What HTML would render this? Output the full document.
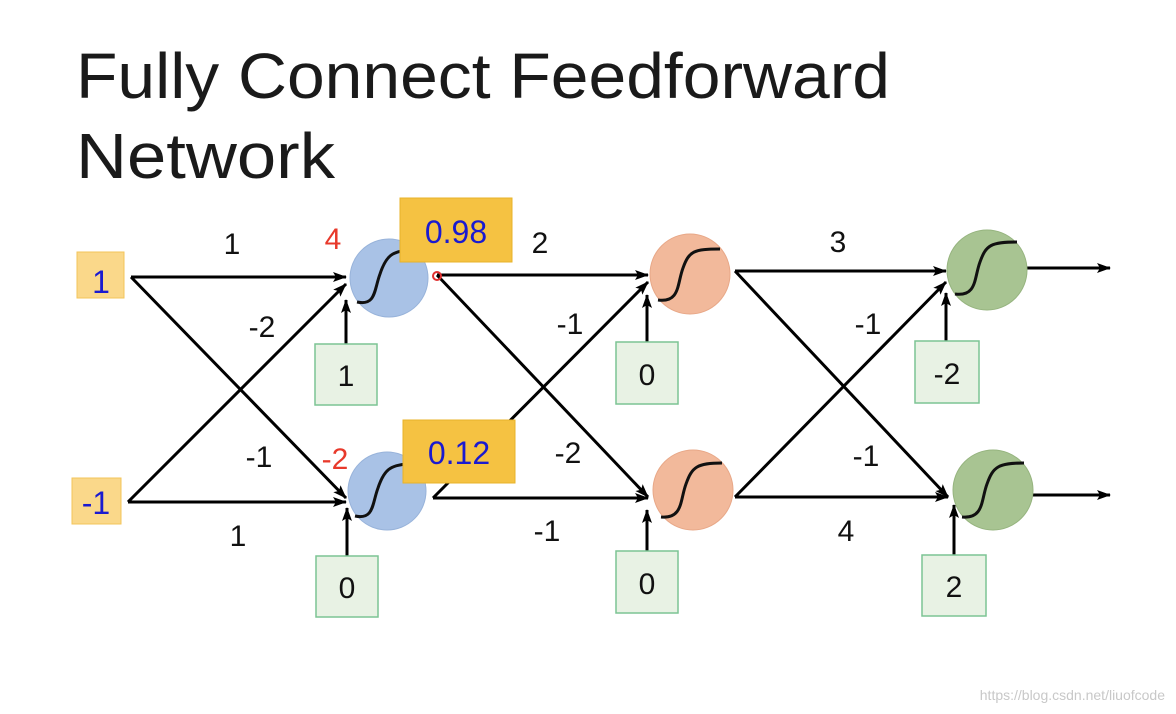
<!DOCTYPE html>
<html><head><meta charset="utf-8"><style>
html,body{margin:0;padding:0;background:#fff;}
svg{display:block;}
text{font-family:"Liberation Sans",sans-serif;}
</style></head><body>
<svg width="1176" height="714" viewBox="0 0 1176 714" xmlns="http://www.w3.org/2000/svg">
<defs>
<marker id="ah" markerWidth="14" markerHeight="10" refX="13" refY="5" orient="auto" markerUnits="userSpaceOnUse">
<path d="M0,0 L14,5 L0,10 L3,5 Z" fill="#000"/>
</marker>
</defs>
<text x="76" y="98" font-size="64" textLength="814" lengthAdjust="spacingAndGlyphs" fill="#1a1a1a">Fully Connect Feedforward</text>
<text x="76" y="178" font-size="64" textLength="259" lengthAdjust="spacingAndGlyphs" fill="#1a1a1a">Network</text>

<g stroke="#000" stroke-width="3" fill="none" marker-end="url(#ah)">
<line x1="131" y1="277" x2="346" y2="277"/>
<line x1="131" y1="277" x2="346" y2="498"/>
<line x1="128" y1="502" x2="346" y2="502"/>
<line x1="128" y1="502" x2="346" y2="284"/>
<line x1="346" y1="344" x2="346" y2="300"/>
<line x1="347" y1="556" x2="347" y2="508"/>
<line x1="437" y1="275" x2="648" y2="275"/>
<line x1="437" y1="275" x2="648" y2="497"/>
<line x1="433" y1="498" x2="648" y2="498"/>
<line x1="433" y1="498" x2="648" y2="282"/>
<line x1="647" y1="342" x2="647" y2="295"/>
<line x1="647" y1="551" x2="647" y2="510"/>
<line x1="735" y1="271" x2="946" y2="271"/>
<line x1="735" y1="271" x2="948" y2="497"/>
<line x1="735" y1="497" x2="948" y2="497"/>
<line x1="735" y1="497" x2="946" y2="282"/>
<line x1="946" y1="341" x2="946" y2="293"/>
<line x1="954" y1="555" x2="954" y2="505"/>
<line x1="1027" y1="268" x2="1110" y2="268"/>
<line x1="1033" y1="495" x2="1110" y2="495"/>
</g>

<g stroke-width="1">
<circle cx="389" cy="278" r="39" fill="#a9c2e6" stroke="#98b3da"/>
<circle cx="387" cy="491" r="39" fill="#a9c2e6" stroke="#98b3da"/>
<circle cx="690" cy="274" r="40" fill="#f2b99b" stroke="#e8a888"/>
<circle cx="693" cy="490" r="40" fill="#f2b99b" stroke="#e8a888"/>
<circle cx="987" cy="270" r="40" fill="#a8c492" stroke="#96b47f"/>
<circle cx="993" cy="490" r="40" fill="#a8c492" stroke="#96b47f"/>
</g>
<g stroke="#111" stroke-width="3" fill="none">
<path d="M357,302 C376,306 374,290 380,274 C386,256 392,251 410,250"/>
<path d="M355,516 C374,520 372,504 378,488 C384,470 390,465 408,464"/>
<path d="M658,300 C680,303 677,284 683,268 C689,251 694,249 720,249"/>
<path d="M661,517 C683,519 680,500 686,484 C692,467 697,463 722,463"/>
<path d="M955,294 C977,297 974,278 980,262 C986,245 991,242 1017,242"/>
<path d="M962,517 C984,519 981,500 987,484 C993,467 998,463 1024,463"/>
</g>
<circle cx="437" cy="276" r="4" fill="none" stroke="#e03030" stroke-width="2"/>

<rect x="400" y="198" width="112" height="64" fill="#f5c242" stroke="#e8b32a"/>
<text x="456" y="243" font-size="32" fill="#1a1ad0" text-anchor="middle">0.98</text>
<rect x="403" y="420" width="112" height="63" fill="#f5c242" stroke="#e8b32a"/>
<text x="459" y="464" font-size="32" fill="#1a1ad0" text-anchor="middle">0.12</text>

<rect x="77" y="252" width="47" height="46" fill="#fad88a" stroke="#f3c45a"/>
<text x="101" y="293" font-size="32" fill="#1a1ad0" text-anchor="middle">1</text>
<rect x="72" y="478" width="49" height="46" fill="#fad88a" stroke="#f3c45a"/>
<text x="96" y="514" font-size="32" fill="#1a1ad0" text-anchor="middle">-1</text>

<g fill="#e8f2e4" stroke="#7cc494" stroke-width="1.5">
<rect x="315" y="344" width="62" height="61"/>
<rect x="316" y="556" width="62" height="61"/>
<rect x="616" y="342" width="62" height="62"/>
<rect x="616" y="551" width="62" height="62"/>
<rect x="915" y="341" width="64" height="62"/>
<rect x="922" y="555" width="64" height="61"/>
</g>
<g font-size="30" fill="#111" text-anchor="middle">
<text x="346" y="386">1</text>
<text x="347" y="598">0</text>
<text x="647" y="385">0</text>
<text x="647" y="594">0</text>
<text x="947" y="384">-2</text>
<text x="954" y="597">2</text>
<text x="232" y="254">1</text>
<text x="262" y="337">-2</text>
<text x="259" y="467">-1</text>
<text x="238" y="546">1</text>
<text x="540" y="253">2</text>
<text x="570" y="334">-1</text>
<text x="568" y="463">-2</text>
<text x="547" y="541">-1</text>
<text x="838" y="252">3</text>
<text x="868" y="334">-1</text>
<text x="866" y="466">-1</text>
<text x="846" y="541">4</text>
</g>
<g font-size="30" fill="#e8392b" text-anchor="middle">
<text x="333" y="249">4</text>
<text x="335" y="469">-2</text>
</g>
<text x="1165" y="700" font-size="14" fill="#c8c8c8" text-anchor="end">https://blog.csdn.net/liuofcode</text>
</svg>
</body></html>
